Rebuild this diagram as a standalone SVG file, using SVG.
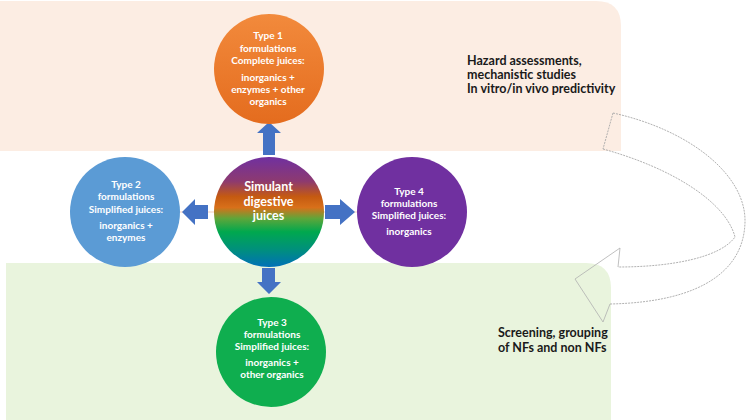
<svg xmlns="http://www.w3.org/2000/svg" width="746" height="420" viewBox="0 0 746 420">
<style>
.ct{font-family:Lato,"Liberation Sans",sans-serif;font-weight:bold;font-size:10px;fill:#fff;text-anchor:middle}
.big{font-size:12.5px}
.side{font-family:Lato,"Liberation Sans",sans-serif;font-weight:bold;font-size:12.5px;fill:#1a1a1a}
.arr{fill:#4472c4}
.curve{fill:none;stroke:#a8a8a8;stroke-width:0.9;stroke-dasharray:2 1}
.head{fill:none;stroke:#b0b0b0;stroke-width:0.8}
</style>
<defs>
<linearGradient id="g1" x1="0" y1="0" x2="0" y2="1">
<stop offset="0" stop-color="#f28a3c"/><stop offset="1" stop-color="#e46c1e"/>
</linearGradient>
<linearGradient id="gc" x1="0" y1="0" x2="0" y2="1">
<stop offset="0" stop-color="#7030a0"/>
<stop offset="0.22" stop-color="#8d3a70"/>
<stop offset="0.36" stop-color="#c55a11"/>
<stop offset="0.46" stop-color="#d8701a"/>
<stop offset="0.56" stop-color="#5ea63a"/>
<stop offset="0.68" stop-color="#00a84e"/>
<stop offset="0.84" stop-color="#00907c"/>
<stop offset="1" stop-color="#0070b8"/>
</linearGradient>
</defs>
<g id="bands">
<path d="M0,1 H596 Q621,1 621,26 V151 H0 Z" fill="#fcede3"/>
<path d="M6,263 H586 Q611,263 611,288 V420 H6 Z" fill="#e9f4dd"/>
<line x1="180" y1="212" x2="372" y2="212" stroke="#f2cdbd" stroke-width="1"/>
</g>
<g id="connectors">
<path class="arr" d="M263,155 V133 H257 L269,122 L281,133 H275 V155 Z"/>
<path class="arr" d="M208,205 H195 V199 L182,212 L195,225 V219 H208 Z"/>
<path class="arr" d="M325,205 H340 V199 L355,212 L340,225 V219 H325 Z"/>
<path class="arr" d="M262,268 V282 H257 L269,294 L281,282 H275 V268 Z"/>
<g id="feedback">
<path class="curve" d="M613,113 C690,130 746,175 745,222 C744,268 705,302 610,304"/>
<path class="curve" d="M603,149 C672,168 726,202 735,237 C720,258 670,267 618,267"/>
<path class="curve" d="M613,113 L603,149"/>
<path class="head" d="M618,267 L620,248 L575,279 L603,322 L610,304"/>
</g>
</g>
<g id="type1">
<circle cx="269" cy="69" r="55" fill="url(#g1)"/>
<text class="ct" x="268" y="39">Type 1</text>
<text class="ct" x="268" y="52">formulations</text>
<text class="ct" x="268" y="64">Complete juices:</text>
<text class="ct" x="268" y="81">inorganics +</text>
<text class="ct" x="268" y="93">enzymes + other</text>
<text class="ct" x="268" y="105">organics</text>
</g>
<g id="type2">
<circle cx="125" cy="212" r="55" fill="#5b9bd5"/>
<text class="ct" x="126" y="188">Type 2</text>
<text class="ct" x="126" y="200">formulations</text>
<text class="ct" x="126" y="213">Simplified juices:</text>
<text class="ct" x="126" y="229">inorganics +</text>
<text class="ct" x="126" y="241">enzymes</text>
</g>
<g id="center">
<circle cx="269" cy="212" r="55" fill="url(#gc)"/>
<text class="ct big" x="268.5" y="191">Simulant</text>
<text class="ct big" x="268.5" y="205.5">digestive</text>
<text class="ct big" x="268.5" y="220">juices</text>
</g>
<g id="type4">
<circle cx="412" cy="212" r="55" fill="#7030a0"/>
<text class="ct" x="409" y="195">Type 4</text>
<text class="ct" x="409" y="207">formulations</text>
<text class="ct" x="409" y="219">Simplified juices:</text>
<text class="ct" x="409" y="235">inorganics</text>
</g>
<g id="type3">
<circle cx="271" cy="352" r="55" fill="#0fae4f"/>
<text class="ct" x="272" y="326">Type 3</text>
<text class="ct" x="272" y="338">formulations</text>
<text class="ct" x="272" y="350">Simplified juices:</text>
<text class="ct" x="272" y="366">inorganics +</text>
<text class="ct" x="272" y="378">other organics</text>
</g>
<g id="hazard">
<text class="side" x="467" y="65">Hazard assessments,</text>
<text class="side" x="467" y="79">mechanistic studies</text>
<text class="side" x="467" y="93">In vitro/in vivo predictivity</text>
</g>
<g id="screening">
<text class="side" x="498" y="337">Screening, grouping</text>
<text class="side" x="498" y="352">of NFs and non NFs</text>
</g>
</svg>
